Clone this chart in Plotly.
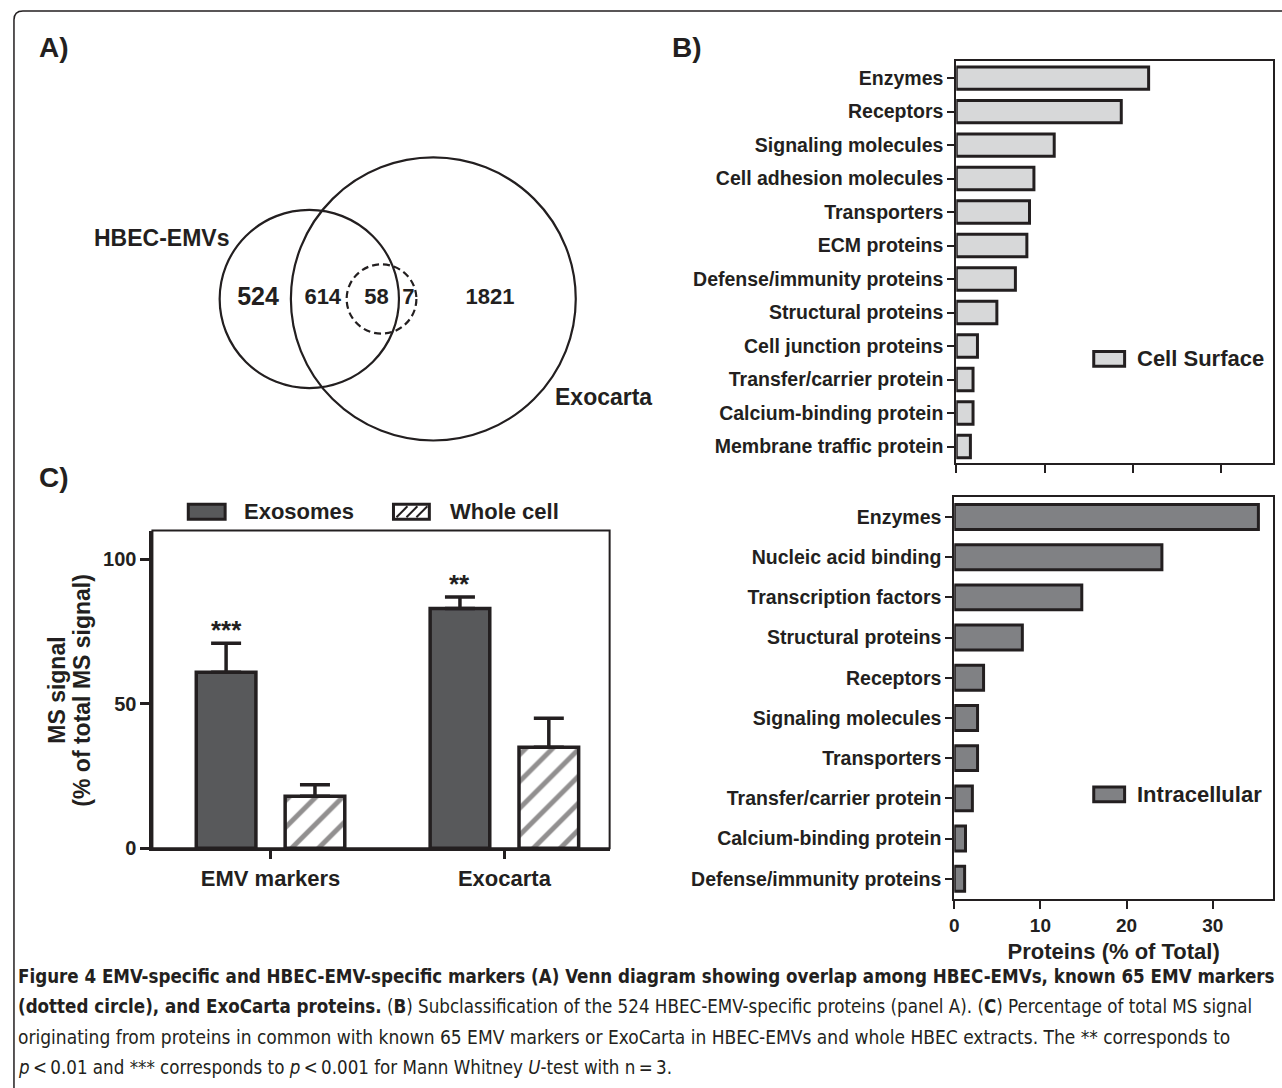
import plotly.graph_objects as go

W, H = 1282, 1088
INK = "#231f20"
FONT = "Liberation Sans, Arial, Helvetica, sans-serif"
CAPFONT = "Liberation Sans Narrow, DejaVu Sans Condensed, Roboto Condensed, Liberation Sans, sans-serif"

# ---------------- data ----------------
# Panel A (Venn counts)
venn_counts = [524, 614, 58, 7, 1821]
venn_set_names = ["HBEC-EMVs", "Exocarta"]

# Panel B
surface_categories = ["Enzymes", "Receptors", "Signaling molecules", "Cell adhesion molecules",
                      "Transporters", "ECM proteins", "Defense/immunity proteins",
                      "Structural proteins", "Cell junction proteins", "Transfer/carrier protein",
                      "Calcium-binding protein", "Membrane traffic protein"]
surface_values = [21.8, 18.7, 11.1, 8.8, 8.3, 8.0, 6.7, 4.6, 2.4, 1.9, 1.9, 1.6]
intra_categories = ["Enzymes", "Nucleic acid binding", "Transcription factors", "Structural proteins",
                    "Receptors", "Signaling molecules", "Transporters", "Transfer/carrier protein",
                    "Calcium-binding protein", "Defense/immunity proteins"]
intra_values = [35.3, 24.1, 14.8, 7.9, 3.4, 2.7, 2.7, 2.1, 1.3, 1.2]
b_x_ticks = [0, 10, 20, 30]

# Panel C
ms_groups = ["EMV markers", "Exocarta"]
exosome_values = [61, 83]
exosome_errors = [10, 4]
wholecell_values = [18, 35]
wholecell_errors = [4, 10]
significance = ["***", "**"]
c_y_ticks = [0, 50, 100]

# ---------------- helpers (pixel -> paper) ----------------
def px(x):
    return x / W

def py(y):
    return 1 - y / H

fig = go.Figure()

# ---------------- Panel B ----------------
fig.add_trace(go.Bar(y=surface_categories, x=surface_values, orientation="h",
                     xaxis="x", yaxis="y", width=0.67,
                     marker=dict(color="#d7d8d9", line=dict(color=INK, width=3))))
fig.add_trace(go.Bar(y=intra_categories, x=intra_values, orientation="h",
                     xaxis="x2", yaxis="y2", width=0.62,
                     marker=dict(color="#808184", line=dict(color=INK, width=3))))

axis_common = dict(showline=True, linecolor=INK, linewidth=2, mirror=True, showgrid=False,
                   zeroline=False, ticks="outside", tickcolor=INK, tickwidth=2)
tickfont_b = dict(family=FONT, size=19.5, color=INK, weight="bold")

fig.update_layout(
    xaxis=dict(domain=[px(955), px(1273)], range=[0, 35.9], anchor="y", tickvals=b_x_ticks,
               showticklabels=False, ticklen=8, **axis_common),
    yaxis=dict(domain=[py(468), py(62)], anchor="x", type="category",
               categoryorder="array", categoryarray=surface_categories,
               range=[len(surface_categories) - 0.5, -0.5], ticklen=7,
               tickfont=tickfont_b, **axis_common),
    xaxis2=dict(domain=[px(953), px(1273)], range=[0, 37], anchor="y2", tickvals=b_x_ticks,
                ticklen=8, tickfont=dict(family=FONT, size=19, color=INK, weight="bold"),
                title=dict(text="Proteins (% of Total)", standoff=9,
                           font=dict(family=FONT, size=22, color=INK, weight="bold")),
                **axis_common),
    yaxis2=dict(domain=[py(908), py(502)], anchor="x2", type="category",
                categoryorder="array", categoryarray=intra_categories,
                range=[len(intra_categories) - 0.5, -0.5], ticklen=7,
                tickfont=tickfont_b, **axis_common),
)

# ---------------- Panel C ----------------
bar_w = 0.255
half_gap = 0.19
fig.add_trace(go.Bar(x=ms_groups, y=exosome_values, xaxis="x3", yaxis="y3",
                     width=bar_w, offset=-half_gap - bar_w / 2,
                     marker=dict(color="#58595b", line=dict(color=INK, width=3.5)),
                     error_y=dict(type="data", array=exosome_errors, arrayminus=[0] * len(exosome_errors),
                                  symmetric=False, color=INK, thickness=3.5, width=15)))
fig.add_trace(go.Bar(x=ms_groups, y=wholecell_values, xaxis="x3", yaxis="y3",
                     width=bar_w, offset=half_gap - bar_w / 2,
                     marker=dict(color="white", line=dict(color=INK, width=3.5),
                                 pattern=dict(shape="/", fgcolor=INK, bgcolor="white",
                                              size=19, solidity=0.26)),
                     error_y=dict(type="data", array=wholecell_errors, arrayminus=[0] * len(wholecell_errors),
                                  symmetric=False, color=INK, thickness=3.5, width=15)))

fig.update_layout(
    barmode="overlay",
    xaxis3=dict(domain=[px(148), px(607)], anchor="y3", type="category", range=[-0.505, 1.45],
                showline=True, linecolor=INK, linewidth=3, showgrid=False, zeroline=False,
                ticks="outside", ticklen=8, tickwidth=3, tickcolor=INK,
                tickfont=dict(family=FONT, size=22, color=INK, weight="bold")),
    yaxis3=dict(domain=[py(857), py(536)], anchor="x3", range=[0, 110], tickvals=c_y_ticks,
                showline=True, linecolor=INK, linewidth=3, showgrid=False, zeroline=False,
                ticks="outside", ticklen=9, tickwidth=3, tickcolor=INK,
                tickfont=dict(family=FONT, size=20, color=INK, weight="bold")),
)

shapes = []
annotations = []

# frame of panel C
shapes.append(dict(type="rect", xref="x3 domain", yref="y3 domain", x0=0, x1=1, y0=0, y1=1,
                   line=dict(color=INK, width=2), layer="below"))

# significance marks
for i, s in enumerate(significance):
    annotations.append(dict(x=i - half_gap, y=exosome_values[i] + exosome_errors[i], xref="x3", yref="y3",
                            text=s, showarrow=False, yanchor="bottom", yshift=-4,
                            font=dict(family=FONT, size=26, color=INK, weight="bold")))

# y title of panel C
annotations.append(dict(x=px(52), y=py(697), xref="paper", yref="paper", text="MS signal",
                        textangle=-90, showarrow=False, xanchor="center", yanchor="middle",
                        font=dict(family=FONT, size=23, color=INK, weight="bold")))
annotations.append(dict(x=px(77), y=py(697), xref="paper", yref="paper", text="(% of total MS signal)",
                        textangle=-90, showarrow=False, xanchor="center", yanchor="middle",
                        font=dict(family=FONT, size=23, color=INK, weight="bold")))

# legend of panel C
LEG_Y = 517
shapes.append(dict(type="rect", xref="paper", yref="paper", x0=px(184), x1=px(221),
                   y0=py(LEG_Y + 7.5), y1=py(LEG_Y - 7.5),
                   fillcolor="#58595b", line=dict(color=INK, width=3)))
annotations.append(dict(x=px(238), y=py(LEG_Y), xref="paper", yref="paper", text="Exosomes",
                        showarrow=False, xanchor="left", yanchor="middle",
                        font=dict(family=FONT, size=22, color=INK, weight="bold")))
shapes.append(dict(type="rect", xref="paper", yref="paper", x0=px(390), x1=px(426),
                   y0=py(LEG_Y + 7.5), y1=py(LEG_Y - 7.5),
                   fillcolor="white", line=dict(color=INK, width=3)))
for k in range(3):
    xa = 393 + k * 10
    shapes.append(dict(type="line", xref="paper", yref="paper", x0=px(xa), y0=py(LEG_Y + 5.5),
                       x1=px(min(xa + 11, 424)), y1=py(LEG_Y - 5.5), line=dict(color=INK, width=2)))
annotations.append(dict(x=px(445), y=py(LEG_Y), xref="paper", yref="paper", text="Whole cell",
                        showarrow=False, xanchor="left", yanchor="middle",
                        font=dict(family=FONT, size=22, color=INK, weight="bold")))

# legends of panel B
for (y0, y1, col, label) in [(355, 370, "#d7d8d9", "Cell Surface"), (795, 810, "#808184", "Intracellular")]:
    shapes.append(dict(type="rect", xref="paper", yref="paper", x0=px(1093), x1=px(1124),
                       y0=py(y1), y1=py(y0), fillcolor=col, line=dict(color=INK, width=3)))
    annotations.append(dict(x=px(1134), y=py((y0 + y1) / 2), xref="paper", yref="paper", text=label,
                            showarrow=False, xanchor="left", yanchor="middle",
                            font=dict(family=FONT, size=22, color=INK, weight="bold")))

# ---------------- Panel A (Venn) ----------------
fig.update_layout(
    xaxis4=dict(domain=[0, px(641)], range=[0, 641], visible=False, anchor="y4"),
    yaxis4=dict(domain=[py(480), py(130)], range=[480, 130], visible=False, anchor="x4"),
)
venn_circles = [  # (cx, cy, r, dash)
    (305.5, 302, 90, "solid"),
    (430, 302, 143, "solid"),
    (378, 302, 35, "7px,4px"),
]
for cx, cy, r, dash in venn_circles:
    shapes.append(dict(type="circle", xref="x4", yref="y4", x0=cx - r, x1=cx + r, y0=cy - r, y1=cy + r,
                       line=dict(color=INK, width=2.2, dash=dash)))
venn_label_x = [254, 319, 373, 405, 487]
venn_label_size = [25, 22, 22, 22, 22]
fig.add_trace(go.Scatter(x=venn_label_x, y=[302] * len(venn_counts), xaxis="x4", yaxis="y4",
                         mode="text", text=[str(c) for c in venn_counts],
                         textfont=dict(family=FONT, size=venn_label_size, color=INK, weight="bold"),
                         hoverinfo="skip"))
annotations.append(dict(x=227, y=240, xref="x4", yref="y4", text=venn_set_names[0], showarrow=False,
                        xanchor="right", yanchor="middle",
                        font=dict(family=FONT, size=23, color=INK, weight="bold")))
annotations.append(dict(x=550, y=401, xref="x4", yref="y4", text=venn_set_names[1], showarrow=False,
                        xanchor="left", yanchor="middle",
                        font=dict(family=FONT, size=23, color=INK, weight="bold")))

# ---------------- Panel letters ----------------
for (lx, ly, t) in [(32, 48, "A)"), (668, 48, "B)"), (32, 482, "C)")]:
    annotations.append(dict(x=px(lx), y=py(ly), xref="paper", yref="paper", text=t, showarrow=False,
                            xanchor="left", yanchor="middle",
                            font=dict(family=FONT, size=28, color=INK, weight="bold")))

# ---------------- Outer border ----------------
shapes.append(dict(type="path", xref="paper", yref="paper",
                   path=(f"M {px(9)},{py(1100)} L {px(9)},{py(20)} "
                         f"Q {px(9)},{py(11)} {px(18)},{py(11)} L {px(1300)},{py(11)}"),
                   line=dict(color=INK, width=1.5)))

# ---------------- Caption ----------------
caption_lines = [
    "<b>Figure 4 EMV-specific and HBEC-EMV-specific markers (A) Venn diagram showing overlap among HBEC-EMVs, known 65 EMV markers</b>",
    "<b>(dotted circle), and ExoCarta proteins.</b> (<b>B</b>) Subclassification of the 524 HBEC-EMV-specific proteins (panel A). (<b>C</b>) Percentage of total MS signal",
    "originating from proteins in common with known 65 EMV markers or ExoCarta in HBEC-EMVs and whole HBEC extracts. The ** corresponds to",
    "<i>p</i>\u2009&lt;\u20090.01 and *** corresponds to <i>p</i>\u2009&lt;\u20090.001 for Mann Whitney <i>U</i>-test with n\u2009=\u20093.",
]
caption_y = [986, 1017, 1048, 1078]
caption_size = [18.6, 18.6, 19.0, 18.6]
for t, yy, fs in zip(caption_lines, caption_y, caption_size):
    annotations.append(dict(x=px(11), y=py(yy), xref="paper", yref="paper", text=t, showarrow=False,
                            xanchor="left", yanchor="middle",
                            font=dict(family=CAPFONT, size=fs, color=INK)))

fig.update_layout(
    width=W, height=H, margin=dict(l=0, r=0, t=0, b=0),
    paper_bgcolor="white", plot_bgcolor="white", showlegend=False,
    shapes=shapes, annotations=annotations,
    font=dict(family=FONT, color=INK),
)

fig.write_html("out.html", config={"displayModeBar": False},
               post_script="document.body.style.margin='0';document.body.style.overflow='hidden';")
